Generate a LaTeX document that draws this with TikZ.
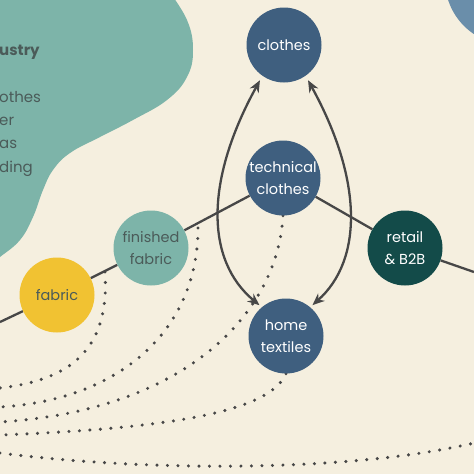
\documentclass[tikz,border=0pt]{standalone}
\usepackage{fontspec}
\setmainfont{Poppins}
\usetikzlibrary{arrows.meta}
\definecolor{bgc}{HTML}{F5EFDF}
\definecolor{blobc}{HTML}{7DB4A9}
\definecolor{bluen}{HTML}{3F5F7F}
\definecolor{retailc}{HTML}{134B49}
\definecolor{yellowc}{HTML}{F1C232}
\definecolor{circc}{HTML}{6A8EAA}
\definecolor{linec}{HTML}{474747}
\definecolor{txtdark}{HTML}{4B5B59}
\pgfdeclarelayer{back}
\pgfdeclarelayer{lines}
\pgfsetlayers{back,lines,main}
\begin{document}
\begin{tikzpicture}[x=1pt,y=-1pt,
 nodec/.style={circle, minimum size=75pt, inner sep=0pt, align=center, font=\fontsize{14.5}{22}\selectfont},
 bluenode/.style={nodec, fill=bluen, text=white},
 mainline/.style={draw=linec, line width=2.3pt},
 arr/.style={draw=linec, line width=2.3pt, shorten <=5pt, shorten >=3pt, {Stealth[length=12pt,width=10pt]}-{Stealth[length=12pt,width=10pt]}},
 dots/.style={draw=linec, line width=3.4pt, line cap=round, dash pattern=on 0pt off 10.5pt},
 blobtext/.style={anchor=base west, inner sep=0pt, text=txtdark, font=\fontsize{15}{18}\selectfont}]
\useasboundingbox (0,0) rectangle (474,474);
\clip (0,0) rectangle (474,474);
% nodes
\node[bluenode] (clothes) at (284,45) {clothes};
\node[bluenode] (tech) at (283,178) {technical\\clothes};
\node[bluenode] (home) at (286,336) {home\\textiles};
\node[nodec, fill=retailc, text=white] (retail) at (405,248) {retail\\\& B2B};
\node[nodec, fill=blobc, text=txtdark] (fin) at (151,248) {finished\\fabric};
\node[nodec, fill=yellowc, text=txtdark] (fabric) at (57,295) {fabric};
% coordinates
\coordinate (L) at (0,322);
\coordinate (R) at (474,272);
\coordinate (s1) at (105,272);
\coordinate (s2) at (198,228);
\coordinate (e1) at (0,388);
\coordinate (e2) at (0,407);
\coordinate (e3) at (0,422);
\coordinate (e4) at (0,435);
\coordinate (e5) at (0,453);
\coordinate (r5) at (474,443);
\begin{pgfonlayer}{back}
\fill[bgc] (0,0) rectangle (474,474);
\fill[blobc] plot[smooth, tension=0.7] coordinates {(168,-10) (187,20) (193,50) (187,77) (167,100) (133,120) (100,137) (70,153) (53,170) (43,190) (33,217) (20,240) (0,257) (-12,266)} -- (-12,-12) -- cycle;
\fill[circc] (510,-20) circle (65);
\node[blobtext, font=\fontsize{15}{18}\selectfont\bfseries] (t1) at (-1,55) {ustry};
\node[blobtext] (t2) at (-1,102) {othes};
\node[blobtext] (t3) at (-1,125) {er};
\node[blobtext] (t4) at (-1,148) {as};
\node[blobtext] (t5) at (-1,172) {ding};
\end{pgfonlayer}
\begin{pgfonlayer}{lines}
\draw[dots] (s1) .. controls (110,350) and (70,380) .. (e1);
\draw[dots] (s2) .. controls (198,330) and (120,400) .. (e2);
\draw[dots] (tech.south) .. controls (278,310) and (190,410) .. (e3);
\draw[dots] (home.south) .. controls (270,410) and (180,428) .. (e4);
\draw[dots] (e5) .. controls (150,472) and (350,472) .. (r5);
\draw[mainline] (L) -- (fabric) -- (fin) -- (tech) -- (retail) -- (R);
\draw[arr] (clothes.235) .. controls (205,180) and (205,260) .. (home.130);
\draw[arr] (clothes.305) .. controls (363,180) and (363,260) .. (home.50);
\end{pgfonlayer}
\end{tikzpicture}
\end{document}
